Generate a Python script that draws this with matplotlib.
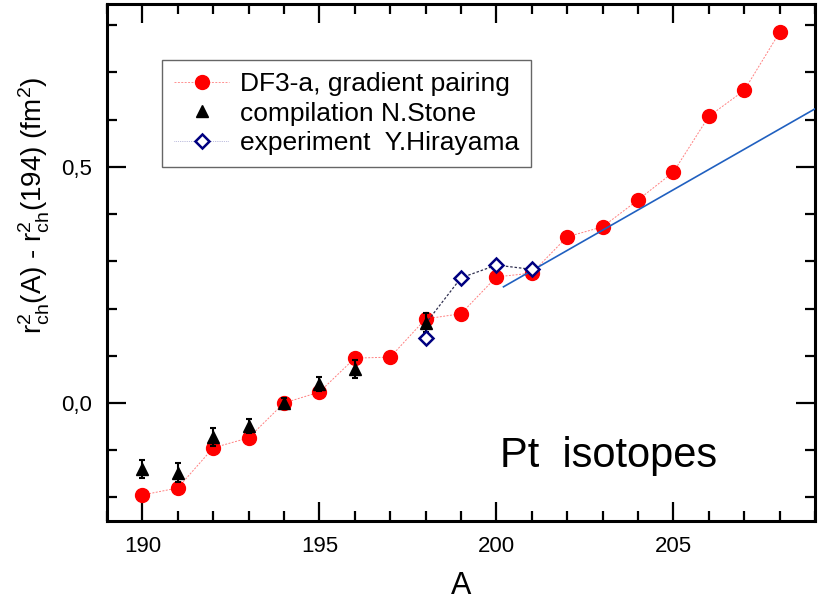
import numpy as np
import matplotlib
matplotlib.use("Agg")
import matplotlib.pyplot as plt
from matplotlib.ticker import MultipleLocator, FuncFormatter
from matplotlib.lines import Line2D

plt.rcParams['font.family'] = ['Liberation Sans', 'DejaVu Sans']
plt.rcParams['mathtext.fontset'] = 'custom'
plt.rcParams['mathtext.rm'] = 'Liberation Sans'
plt.rcParams['mathtext.it'] = 'Liberation Sans'

# DF3-a calculation, gradient pairing
A_df3 = [190, 191, 192, 193, 194, 195, 196, 197, 198, 199, 200, 201, 202, 203, 204, 205, 206, 207, 208]
dr_df3 = [-0.195, -0.180, -0.095, -0.074, 0.0, 0.023, 0.095, 0.097, 0.178, 0.189, 0.267, 0.275,
          0.352, 0.373, 0.430, 0.489, 0.607, 0.662, 0.785]

# compilation N.Stone
A_stone = [190, 191, 192, 193, 194, 195, 196, 198]
dr_stone = [-0.140, -0.148, -0.072, -0.049, 0.0, 0.040, 0.072, 0.170]
err_stone = [0.02, 0.02, 0.02, 0.015, 0.01, 0.015, 0.02, 0.02]

# experiment Y.Hirayama
A_hir = [198, 199, 200, 201]
dr_hir = [0.138, 0.265, 0.292, 0.283]

# dashed guide through the 198-201 data
A_guide = [198, 199, 200, 201]
dr_guide = [0.168, 0.265, 0.292, 0.283]

# straight-line trend
A_trend = [200.2, 209.0]
dr_trend = [0.246, 0.623]

fig = plt.figure(figsize=(8.27, 6.0), dpi=100)
ax = fig.add_axes([0.1294, 0.1317, 0.8561, 0.8616])

ax.plot(A_df3, dr_df3, color='#ff8080', lw=0.7, ls=(0, (2, 1.5)), zorder=2)
ax.plot(A_df3, dr_df3, 'o', color='#ff0000', ms=10, mec='#ff0000', zorder=3)

ax.plot(A_guide, dr_guide, color='#303050', lw=0.9, ls=(0, (2, 1.5)), zorder=4)
ax.plot(A_trend, dr_trend, color='#2060c0', lw=1.2, zorder=4)

ax.errorbar(A_stone, dr_stone, yerr=err_stone, fmt='^', color='black', ms=8.5,
            ecolor='black', elinewidth=1.5, capsize=2.5, capthick=1.5, zorder=5)

ax.plot(A_hir, dr_hir, 'D', ms=7.5, mfc='white', mec='#000080', mew=1.8, zorder=6)

ax.set_xlim(189, 209)
ax.set_ylim(-0.25, 0.845)
ax.xaxis.set_major_locator(MultipleLocator(5))
ax.xaxis.set_minor_locator(MultipleLocator(1))
ax.yaxis.set_major_locator(MultipleLocator(0.5))
ax.yaxis.set_minor_locator(MultipleLocator(0.1))
ax.yaxis.set_major_formatter(FuncFormatter(lambda v, p: f'{v:.1f}'.replace('.', ',')))

ax.tick_params(which='both', direction='in', top=True, right=True, width=1.6,
               labelsize=16, pad=11)
ax.tick_params(which='major', length=14)
ax.tick_params(which='minor', length=7)
for s in ax.spines.values():
    s.set_linewidth(2.2)

ax.set_xlabel('A', fontsize=22, labelpad=10)
ax.set_ylabel(r'r$_{\rm ch}^{2}$(A) - r$_{\rm ch}^{2}$(194) (fm$^{2}$)', fontsize=20)
ax.yaxis.set_label_coords(-0.078, 0.61)

ax.text(200.1, -0.112, 'Pt  isotopes', fontsize=30, va='center', ha='left')

handles = [
    Line2D([], [], color='#ff9090', marker='o', ms=10, lw=0.7, ls=(0, (2, 1.5)),
           mfc='#ff0000', mec='#ff0000'),
    Line2D([], [], color='black', marker='^', ms=8.5, ls='none'),
    Line2D([], [], color='#8080c0', marker='D', ms=7, lw=0.5, ls=':',
           mfc='white', mec='#000080', mew=1.8),
]
labels = ['DF3-a, gradient pairing', 'compilation N.Stone', 'experiment  Y.Hirayama']
leg = ax.legend(handles, labels, loc='upper left', bbox_to_anchor=(0.0777, 0.8917),
                borderaxespad=0, fontsize=19, frameon=True, fancybox=False,
                edgecolor='#404040', handlelength=2.1, handletextpad=0.4,
                labelspacing=0.22, borderpad=0.45)
leg.get_frame().set_linewidth(1.0)

fig.savefig('out.png', dpi=100)
